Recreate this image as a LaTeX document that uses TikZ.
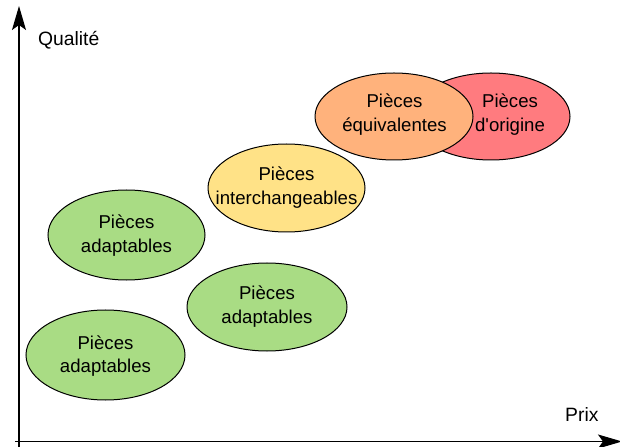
\documentclass[tikz,border=0pt]{standalone}
\usepackage{fontspec}
\setmainfont{Liberation Sans}[Ligatures=TeXOff]
\usetikzlibrary{shapes.geometric,arrows.meta}
\definecolor{cgreen}{HTML}{A9DC84}
\definecolor{cyellow}{HTML}{FFE287}
\definecolor{corange}{HTML}{FFB27C}
\definecolor{cred}{HTML}{FF7B7F}
\tikzset{
  blob/.style={ellipse, draw=black, line width=1bp, inner sep=0pt},
  blobtext/.style={align=center, inner sep=0pt,
    font=\fontsize{18.6bp}{23.5bp}\selectfont},
  axis/.style={line width=1.2bp, -{Stealth[length=24bp,width=14bp,inset=5bp]}},
  axlabel/.style={font=\fontsize{19.3bp}{23bp}\selectfont, inner sep=0pt}
}
\begin{document}
\begin{tikzpicture}[x=1bp,y=-1bp]
\useasboundingbox (0,0) rectangle (620,447);
\coordinate (o1) at (19,447);
\coordinate (ytop) at (19,6);
\coordinate (o2) at (15,441.5);
\coordinate (xend) at (622,441.5);
\draw[axis] (o1) -- (ytop);
\draw[axis] (o2) -- (xend);
\node[axlabel, anchor=west] (qual) at (38,40) {Qualité};
\node[axlabel, anchor=west] (prix) at (565,415) {Prix};

\node[blob, fill=cgreen, minimum width=157bp, minimum height=90bp] (a1) at (126.5,235) {};
\node[blobtext] (a1t) at (126.5,235.5) {Pièces\\adaptables};
\node[blob, fill=cgreen, minimum width=159bp, minimum height=90bp] (a2) at (105.5,355) {};
\node[blobtext] (a2t) at (105.5,356) {Pièces\\adaptables};
\node[blob, fill=cgreen, minimum width=160bp, minimum height=88bp] (a3) at (267,307) {};
\node[blobtext] (a3t) at (267,306.5) {Pièces\\adaptables};
\node[blob, fill=cyellow, minimum width=157bp, minimum height=88bp] (inter) at (286.5,188) {};
\node[blobtext] (intert) at (286.5,187.5) {Pièces\\interchangeables};
\node[blob, fill=cred, minimum width=158bp, minimum height=87bp] (orig) at (491,116.5) {};
\node[blobtext] (origt) at (510,114.5) {Pièces\\d'origine};
\node[blob, fill=corange, minimum width=158bp, minimum height=87bp] (equiv) at (394,116.5) {};
\node[blobtext] (equivt) at (394.5,114.5) {Pièces\\équivalentes};
\end{tikzpicture}
\end{document}
